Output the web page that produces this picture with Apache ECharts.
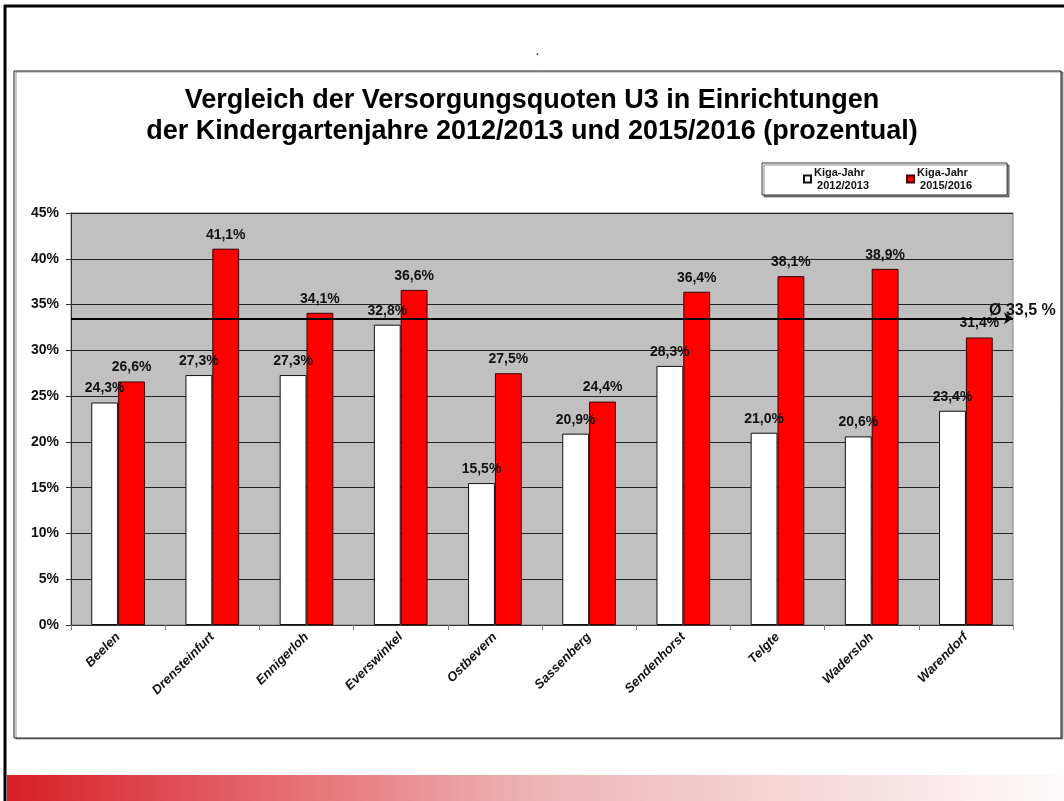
<!DOCTYPE html>
<html>
<head>
<meta charset="utf-8">
<script src="https://cdn.jsdelivr.net/npm/echarts@6/dist/echarts.min.js"></script>
<style>
html,body{margin:0;padding:0;background:#fff;}
#chart{width:1064px;height:801px;}
</style>
</head>
<body>
<div id="chart"></div>
<script>
const categories = ['Beelen','Drensteinfurt','Ennigerloh','Everswinkel','Ostbevern','Sassenberg','Sendenhorst','Telgte','Wadersloh','Warendorf'];
const values2012 = [24.3, 27.3, 27.3, 32.8, 15.5, 20.9, 28.3, 21.0, 20.6, 23.4];
const values2015 = [26.6, 41.1, 34.1, 36.6, 27.5, 24.4, 36.4, 38.1, 38.9, 31.4];
const seriesNames = ['Kiga-Jahr\n 2012/2013', 'Kiga-Jahr\n 2015/2016'];
const average = 33.5;
const yTicks = {min: 0, max: 45, interval: 5};
const titleText = 'Vergleich der Versorgungsquoten U3 in Einrichtungen\nder Kindergartenjahre 2012/2013 und 2015/2016 (prozentual)';

const FONT = '"Liberation Sans", Arial, sans-serif';
const fmt = v => v.toFixed(1).replace('.', ',') + '%';

const chart = echarts.init(document.getElementById('chart'), null, {renderer: 'canvas'});

const labelStyle = {
  show: true, position: 'top', distance: 7,
  fontFamily: FONT, fontWeight: 'bold', fontSize: 14, color: '#111',
  formatter: p => fmt(p.value)
};

chart.setOption({
  animation: false,
  backgroundColor: '#fff',
  title: {
    text: titleText,
    left: 'center', top: 85, padding: 0,
    textStyle: {fontFamily: FONT, fontWeight: 'bold', fontSize: 27, lineHeight: 31, color: '#000'}
  },
  legend: {
    data: seriesNames,
    left: 762, top: 163,
    orient: 'horizontal',
    itemWidth: 7, itemHeight: 7, itemGap: 37,
    padding: [3, 35, 3, 41],
    backgroundColor: '#fff',
    borderColor: '#333', borderWidth: 1,
    shadowColor: 'rgba(0,0,0,0.45)', shadowOffsetX: 2, shadowOffsetY: 2, shadowBlur: 0,
    icon: 'rect',
    textStyle: {fontFamily: FONT, fontWeight: 'bold', fontSize: 11, lineHeight: 13, color: '#111', padding: [0,0,0,-2]}
  },
  grid: {
    left: 71, right: 51, top: 213, bottom: 176,
    show: true, backgroundColor: '#c0c0c0', borderColor: '#808080', borderWidth: 1
  },
  xAxis: {
    type: 'category', data: categories,
    axisLine: {lineStyle: {color: '#333', width: 1}},
    axisTick: {show: true, length: 5, lineStyle: {color: '#808080'}},
    axisLabel: {rotate: 45, margin: 10, interval: 0, fontFamily: FONT, fontWeight: 'bold', fontStyle: 'italic', fontSize: 13, color: '#111'}
  },
  yAxis: {
    type: 'value', min: yTicks.min, max: yTicks.max, interval: yTicks.interval,
    axisLine: {show: true, lineStyle: {color: '#333', width: 1}},
    axisTick: {show: true, length: 5, lineStyle: {color: '#333'}},
    axisLabel: {margin: 12, formatter: '{value}%', fontFamily: FONT, fontWeight: 'bold', fontSize: 14, color: '#111'},
    splitLine: {show: true, lineStyle: {color: '#222', width: 1}}
  },
  series: [
    {
      name: seriesNames[0], type: 'bar', data: values2012,
      barGap: '0%', barCategoryGap: '43%',
      itemStyle: {color: '#ffffff', borderColor: '#111', borderWidth: 1},
      label: labelStyle
    },
    {
      name: seriesNames[1], type: 'bar', data: values2015,
      barGap: '0%', barCategoryGap: '43%',
      itemStyle: {color: '#ff0000', borderColor: '#3a0000', borderWidth: 1},
      label: labelStyle,
      markLine: {
        silent: true,
        symbol: ['none', 'arrow'], symbolSize: [9, 9],
        lineStyle: {color: '#000', width: 2, type: 'solid'},
        label: {
          show: true, position: 'end', distance: 0, offset: [-24, -8],
          fontFamily: FONT, fontWeight: 'bold', fontSize: 16, color: '#111',
          formatter: () => 'Ø ' + average.toFixed(1).replace('.', ',') + ' %'
        },
        data: [{yAxis: average}]
      }
    }
  ],
  graphic: [
    {type: 'rect', z: -10, shape: {x: 14, y: 71, width: 1047, height: 667},
     style: {fill: '#fff', stroke: '#222', lineWidth: 1, shadowColor: 'rgba(0,0,0,0.4)', shadowOffsetX: 2, shadowOffsetY: 1}},
    {type: 'line', shape: {x1: 4, y1: 6, x2: 1064, y2: 6}, style: {stroke: '#000', lineWidth: 3}},
    {type: 'line', shape: {x1: 5, y1: 5, x2: 5, y2: 801}, style: {stroke: '#000', lineWidth: 3}},
    {type: 'rect', shape: {x: 7, y: 775, width: 1057, height: 26},
     style: {fill: new echarts.graphic.LinearGradient(0, 0, 1, 0, [
       {offset: 0, color: '#d91e27'}, {offset: 0.5, color: '#eeb4b6'}, {offset: 1, color: '#fdfbfb'}])}},
    {type: 'text', left: 536, top: 47, style: {text: '.', font: 'bold 10px ' + FONT, fill: '#333'}}
  ]
});
</script>
</body>
</html>
